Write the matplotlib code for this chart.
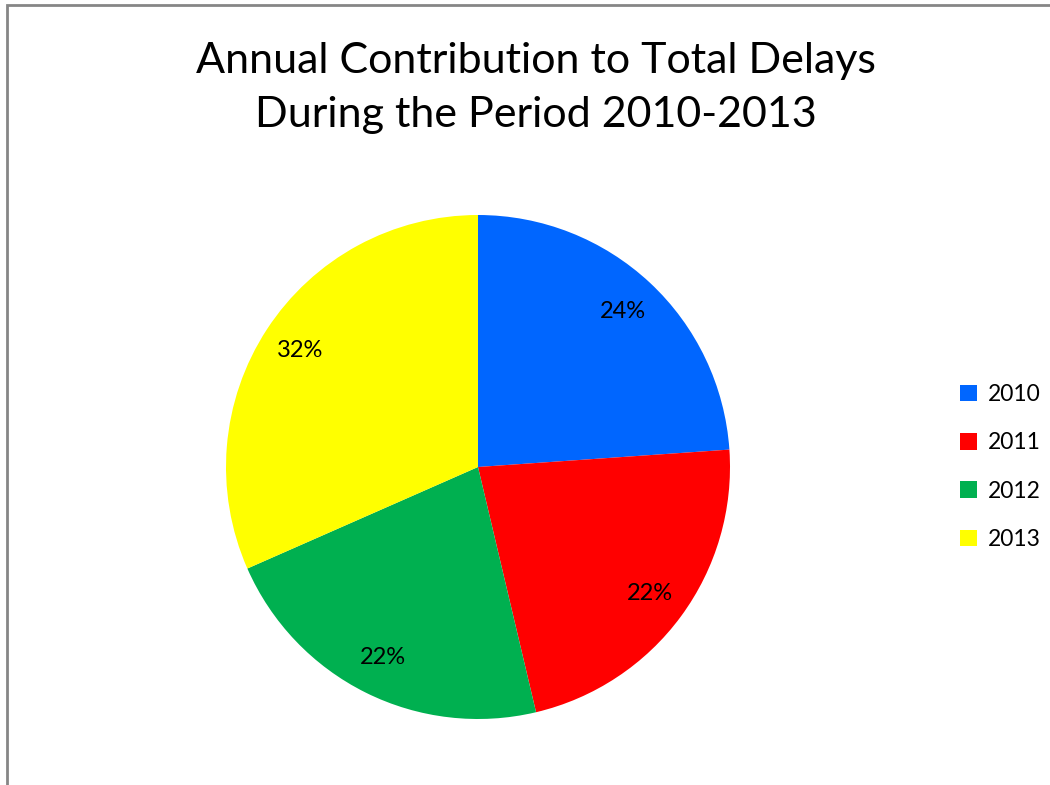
import matplotlib.pyplot as plt
from matplotlib.patches import Rectangle, Patch

years = ['2010', '2011', '2012', '2013']
shares = [23.9, 22.4, 22.1, 31.6]
colors = ['#0066FF', '#FF0000', '#00B050', '#FFFF00']

plt.rcParams['font.family'] = ['Lato', 'DejaVu Sans']

fig = plt.figure(figsize=(10.5, 7.85), dpi=100)

# chart-area border (gray, cut off at right and bottom)
fig.patches.append(Rectangle((7 / 1050, -0.1), 1.2, (785 - 5) / 785 + 0.1,
                             transform=fig.transFigure, fill=False,
                             edgecolor='#868686', linewidth=2))

ax = fig.add_axes([226 / 1050, 1 - 719 / 785, 504 / 1050, 504 / 785])
wedges, texts, autotexts = ax.pie(shares, colors=colors, startangle=90,
                                  counterclock=False, autopct='%.0f%%',
                                  pctdistance=0.845,
                                  textprops={'fontsize': 17, 'color': 'black'})
ax.set_xlim(-1, 1)
ax.set_ylim(-1, 1)
ax.set_aspect('equal')

fig.text(536 / 1050, 1 - 88 / 785,
         'Annual Contribution to Total Delays\nDuring the Period 2010-2013',
         ha='center', va='center', fontsize=31, linespacing=1.5)

handles = [Patch(facecolor=c, edgecolor='none') for c in colors]
fig.legend(handles, years, loc='center left',
           bbox_to_anchor=(960 / 1050, 1 - 467 / 785), frameon=False,
           borderpad=0, borderaxespad=0,
           fontsize=16.5, handlelength=0.75, handleheight=0.75,
           handletextpad=0.45, labelspacing=1.19)

fig.savefig('out.png', dpi=100)
